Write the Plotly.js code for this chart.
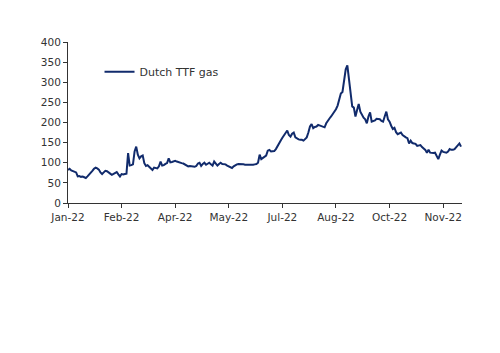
<!DOCTYPE html>
<html>
<head>
<meta charset="utf-8">
<script src="https://cdn.plot.ly/plotly-3.0.1.min.js"></script>
<style>html,body{margin:0;padding:0;background:#fff;}#chart{width:500px;height:353px;}</style>
</head>
<body>
<div id="chart"></div>
<script>
// Dutch TTF gas price, one value per weekday from early January 2022
const seriesName = "Dutch TTF gas";
const ttfValues = [
  82, 85, 81, 79, 78, 76, 66, 67, 65, 66, 64, 62, 66, 70, 74, 80, 85, 88, 86, 83,
  76, 72, 76, 80, 79, 77, 73, 70, 72, 75, 77, 71, 66, 72, 71, 72, 73, 124, 93, 94,
  96, 128, 140, 120, 111, 116, 118, 99, 92, 94, 90, 87, 82, 88, 87, 86, 91, 103, 93, 94,
  97, 99, 111, 101, 102, 104, 105, 103, 101, 100, 99, 98, 96, 94, 91, 92, 91, 91, 90, 92,
  98, 100, 92, 97, 100, 95, 97, 100, 96, 93, 103, 97, 93, 97, 100, 97, 97, 96, 93, 91,
  89, 87, 91, 94, 96, 97, 97, 97, 96, 95, 95, 95, 95, 94, 95, 96, 97, 100, 120, 109,
  112, 114, 118, 130, 132, 128, 128, 129, 134, 140, 147, 155, 162, 168, 175, 180, 169, 165, 172, 175,
  163, 160, 158, 157, 157, 155, 158, 163, 175, 190, 196, 186, 189, 190, 194, 192, 190, 189, 188, 198,
  206, 210, 215, 221, 226, 233, 242, 255, 272, 276, 300, 332, 342, 305, 276, 240, 237, 215, 231, 246,
  227, 219, 212, 208, 198, 215, 225, 202, 203, 205, 209, 208, 208, 204, 202, 215, 227, 208, 202, 192,
  184, 187, 176, 171, 174, 175, 169, 165, 163, 161, 148, 155, 149, 148, 147, 142, 143, 144, 139, 136,
  132, 125, 132, 125, 124, 124, 125, 115, 109, 120, 130, 127, 125, 125, 128, 134, 132, 132, 134, 139,
  142, 148, 140
];
const tickLabels = ["Jan-22", "Feb-22", "Apr-22", "May-22", "Jul-22", "Aug-22", "Oct-22", "Nov-22"];
const tickEvery = 33; // one label every 33 weekdays
const yTicks = [0, 50, 100, 150, 200, 250, 300, 350, 400];

const xIdx = ttfValues.map((_, i) => i);
const tickVals = tickLabels.map((_, k) => k * tickEvery);

const font = {family: "DejaVu Sans, Verdana, sans-serif", size: 10.5, color: "#333"};

Plotly.newPlot("chart", [{
  x: xIdx,
  y: ttfValues,
  type: "scatter",
  mode: "lines",
  name: seriesName,
  line: {color: "#112b6c", width: 2}
}], {
  width: 500, height: 353,
  margin: {l: 68, r: 38, t: 42, b: 150, pad: 0},
  paper_bgcolor: "#fff", plot_bgcolor: "#fff",
  font: font,
  showlegend: true,
  legend: {x: 0.08, y: 0.905, xanchor: "left", yanchor: "top", bgcolor: "rgba(0,0,0,0)",
           font: {family: font.family, size: 11, color: "#333"}, itemwidth: 30},
  xaxis: {
    range: [0, 242.6], showgrid: false, zeroline: false,
    showline: true, linecolor: "#333", linewidth: 1,
    tickmode: "array", tickvals: tickVals, ticktext: tickLabels,
    ticks: "outside", ticklen: 4, tickcolor: "#333"
  },
  yaxis: {
    range: [0, 400], showgrid: false, zeroline: false,
    showline: true, linecolor: "#333", linewidth: 1,
    tickmode: "array", tickvals: yTicks,
    ticks: "outside", ticklen: 4, tickcolor: "#333"
  }
}, {staticPlot: true});
</script>
</body>
</html>
